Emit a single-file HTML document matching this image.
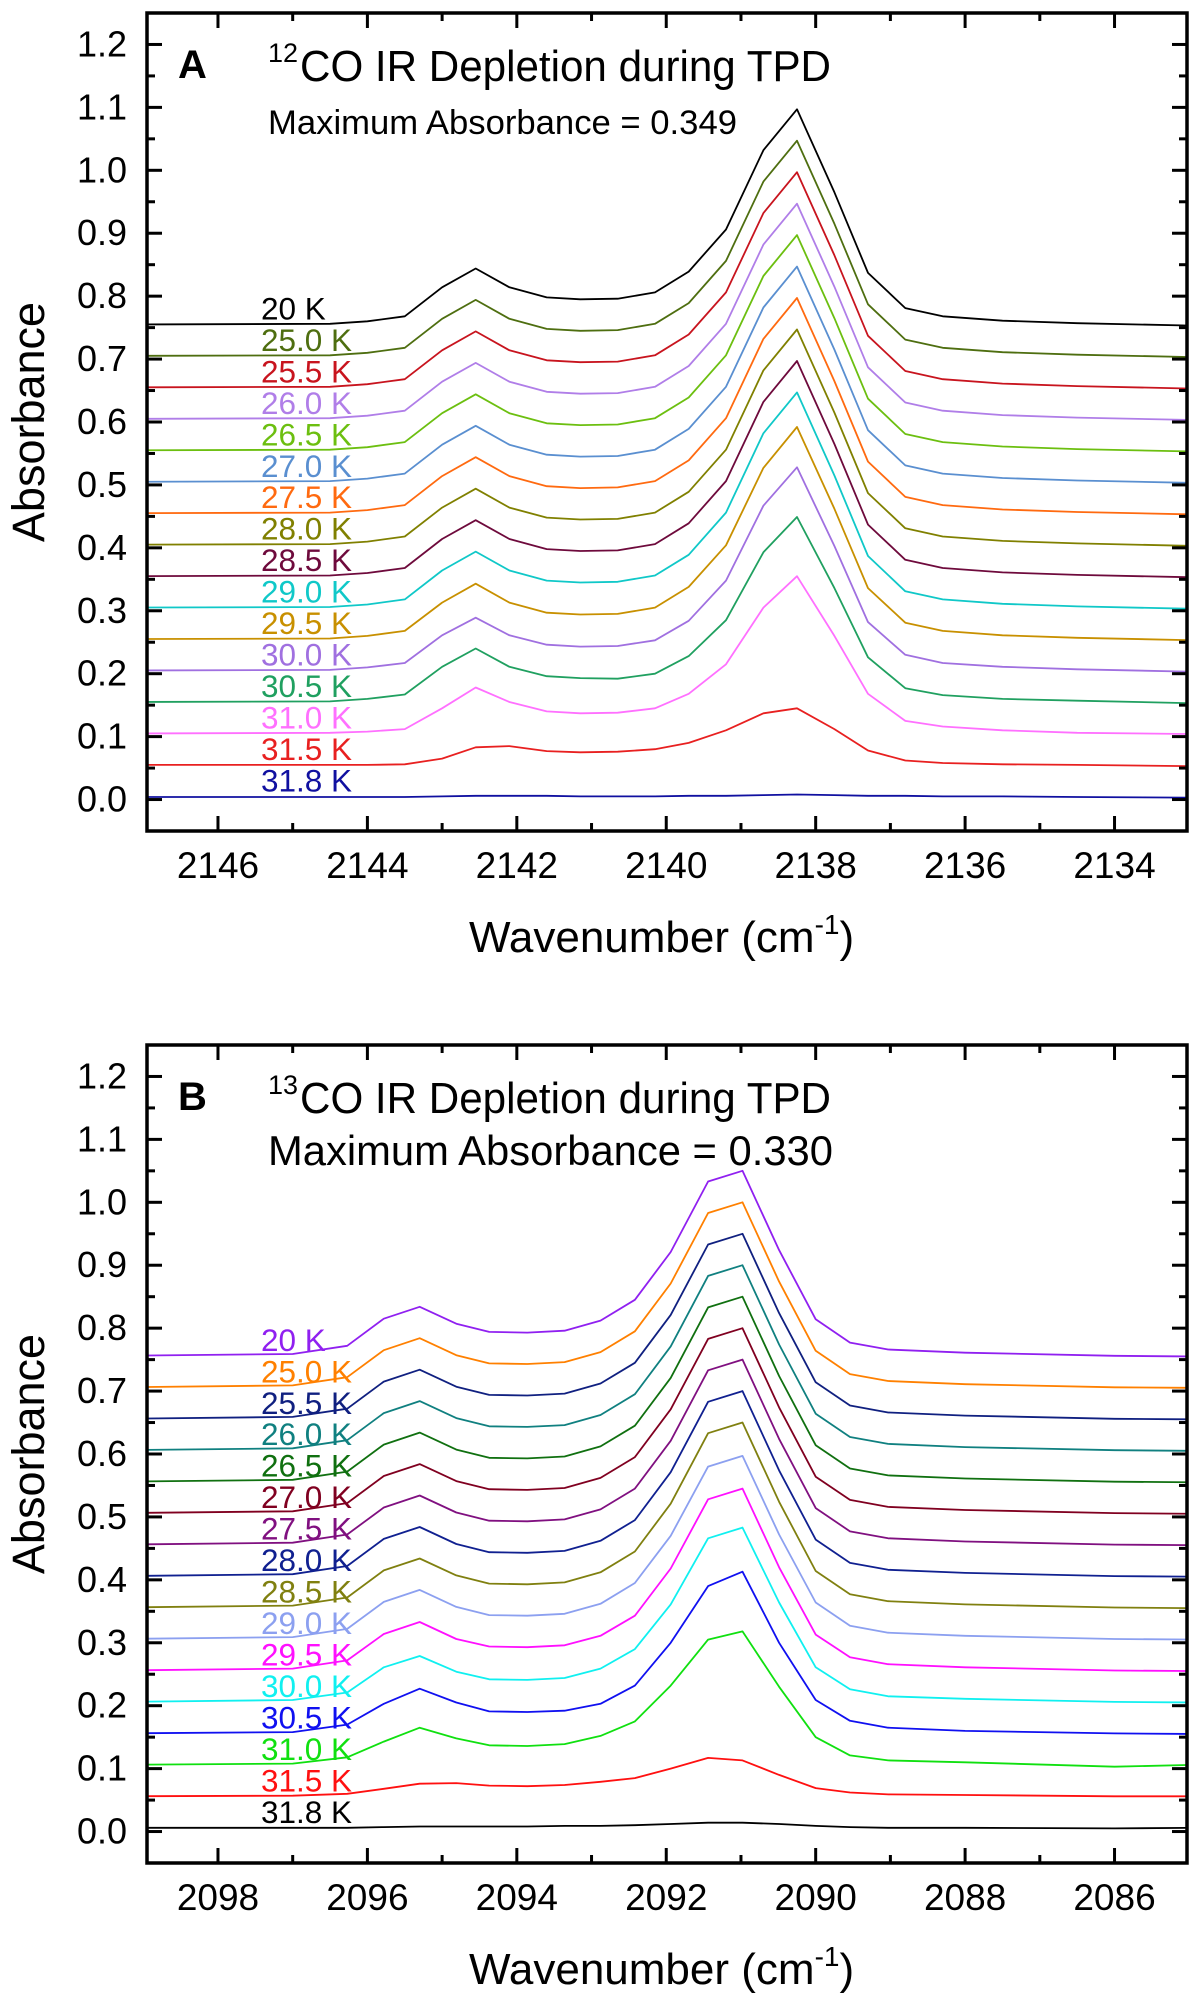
<!DOCTYPE html>
<html><head><meta charset="utf-8">
<style>
html,body{margin:0;padding:0;background:#fff;}
svg{display:block;font-family:"Liberation Sans",Arial,sans-serif;}
</style></head>
<body>
<svg id="fig" width="1200" height="2002" viewBox="0 0 1200 2002"></svg>
<script>
// ===== Panel A data (12CO) =====
const xA = [2147.3,2144.5,2144.0,2143.5,2143.0,2142.55,2142.1,2141.6,2141.15,2140.65,2140.15,2139.7,2139.2,2138.7,2138.25,2137.75,2137.3,2136.8,2136.3,2135.5,2134.5,2132.9];
const labelsA = ["20 K","25.0 K","25.5 K","26.0 K","26.5 K","27.0 K","27.5 K","28.0 K","28.5 K","29.0 K","29.5 K","30.0 K","30.5 K","31.0 K","31.5 K","31.8 K"];
const colorsA = ["#000000","#4e6e10","#c8141e","#b07ee8","#6cbf10","#5a8fd0","#ff6a10","#808000","#6e0a3c","#10c8c8","#c89000","#a070e0","#20a060","#ff70ff","#e82020","#1010a0"];
const baseA = [0.755,0.705,0.655,0.605,0.555,0.505,0.455,0.405,0.355,0.305,0.255,0.205,0.155,0.105,0.055,0.005];
const a20 = [.755,.756,.760,.768,.814,.844,.814,.798,.795,.796,.806,.839,.906,1.032,1.097,.965,.837,.781,.768,.761,.757,.753];
const a250 = [.705,.706,.710,.718,.764,.794,.764,.748,.745,.746,.756,.789,.856,.982,1.047,.915,.787,.731,.718,.711,.707,.703];
const a255 = [.655,.656,.660,.668,.714,.744,.714,.698,.695,.696,.706,.739,.806,.932,.997,.865,.737,.681,.668,.661,.657,.653];
const a260 = [.605,.606,.610,.618,.664,.694,.664,.648,.645,.646,.656,.689,.756,.882,.947,.815,.687,.631,.618,.611,.607,.603];
const a265 = [.555,.556,.560,.568,.614,.644,.614,.598,.595,.596,.606,.639,.706,.832,.897,.765,.637,.581,.568,.561,.557,.553];
const a270 = [.505,.506,.510,.518,.564,.594,.564,.548,.545,.546,.556,.589,.656,.782,.847,.715,.587,.531,.518,.511,.507,.503];
const a275 = [.455,.456,.460,.468,.514,.544,.514,.498,.495,.496,.506,.539,.606,.732,.797,.665,.537,.481,.468,.461,.457,.453];
const a280 = [.405,.406,.410,.418,.464,.494,.464,.448,.445,.446,.456,.489,.556,.682,.747,.615,.487,.431,.418,.411,.407,.403];
const a285 = [.355,.356,.360,.368,.414,.444,.414,.398,.395,.396,.406,.439,.506,.632,.697,.565,.437,.381,.368,.361,.357,.353];
const a290 = [.305,.306,.310,.318,.364,.394,.364,.348,.345,.346,.356,.389,.456,.582,.647,.515,.387,.331,.318,.311,.307,.303];
const a295 = [.255,.256,.260,.268,.313,.343,.313,.297,.294,.295,.305,.338,.404,.527,.592,.462,.336,.281,.268,.261,.257,.253];
const a300 = [.205,.206,.210,.217,.261,.289,.261,.246,.243,.244,.253,.284,.348,.467,.528,.403,.282,.230,.217,.211,.207,.203];
const a305 = [.155,.156,.160,.167,.211,.240,.211,.196,.193,.192,.200,.228,.285,.393,.449,.336,.226,.177,.166,.160,.157,.153];
const a310 = [.105,.106,.108,.112,.145,.178,.155,.140,.137,.138,.145,.168,.215,.305,.355,.260,.168,.125,.116,.110,.106,.104];
const a315 = [.055,.055,.055,.056,.065,.083,.085,.077,.075,.076,.080,.090,.110,.137,.145,.112,.078,.062,.058,.056,.055,.053];
const a318 = [.004,.004,.004,.004,.005,.006,.006,.006,.005,.005,.005,.006,.006,.007,.008,.007,.006,.006,.005,.005,.004,.003];
const seriesA = [a20,a250,a255,a260,a265,a270,a275,a280,a285,a290,a295,a300,a305,a310,a315,a318];
const xTicksA = [2146,2144,2142,2140,2138,2136,2134];

// ===== Panel B data (13CO) =====
const xB = [2099.3,2097.0,2096.27,2095.78,2095.3,2094.81,2094.37,2093.86,2093.36,2092.88,2092.42,2091.94,2091.44,2090.98,2090.49,2090.0,2089.54,2089.03,2088.0,2086.0,2084.9];
const labelsB = ["20 K","25.0 K","25.5 K","26.0 K","26.5 K","27.0 K","27.5 K","28.0 K","28.5 K","29.0 K","29.5 K","30.0 K","30.5 K","31.0 K","31.5 K","31.8 K"];
const colorsB = ["#9020f0","#ff8000","#102080","#108080","#107010","#800020","#801080","#102090","#808010","#8ca0f0","#ff10ff","#10f0f0","#1010f0","#10e010","#ff1010","#000000"];
const baseB = [0.756,0.706,0.656,0.606,0.556,0.506,0.456,0.406,0.356,0.306,0.256,0.206,0.156,0.106,0.056,0.006];
const b20 = [.756,.759,.772,.815,.834,.807,.794,.793,.796,.812,.845,.921,1.033,1.050,.924,.814,.777,.766,.761,.756,.755];
const b250 = [.706,.709,.722,.765,.784,.757,.744,.743,.746,.762,.795,.871,.983,1.000,.874,.764,.727,.716,.711,.706,.705];
const b255 = [.656,.659,.672,.715,.734,.707,.694,.693,.696,.712,.745,.821,.933,.950,.824,.714,.677,.666,.661,.656,.655];
const b260 = [.606,.609,.622,.665,.684,.657,.644,.643,.646,.662,.695,.771,.883,.900,.774,.664,.627,.616,.611,.606,.605];
const b265 = [.556,.559,.572,.615,.634,.607,.594,.593,.596,.612,.645,.721,.833,.850,.724,.614,.577,.566,.561,.556,.555];
const b270 = [.506,.509,.522,.565,.584,.557,.544,.543,.546,.562,.595,.671,.783,.800,.674,.564,.527,.516,.511,.506,.505];
const b275 = [.456,.459,.472,.515,.534,.507,.494,.493,.496,.512,.545,.621,.733,.750,.624,.514,.477,.466,.461,.456,.455];
const b280 = [.406,.409,.422,.465,.484,.457,.444,.443,.446,.462,.495,.571,.683,.700,.574,.464,.427,.416,.411,.406,.405];
const b285 = [.356,.359,.372,.415,.434,.407,.394,.393,.396,.412,.445,.521,.633,.650,.524,.414,.377,.366,.361,.356,.355];
const b290 = [.306,.309,.322,.365,.384,.357,.344,.343,.346,.362,.395,.470,.580,.597,.472,.364,.327,.316,.311,.306,.305];
const b295 = [.256,.259,.272,.314,.333,.306,.294,.293,.296,.311,.343,.418,.528,.545,.420,.313,.277,.266,.261,.256,.255];
const b300 = [.206,.209,.221,.261,.279,.254,.242,.241,.244,.259,.290,.361,.466,.483,.364,.261,.226,.215,.211,.206,.205];
const b305 = [.156,.158,.170,.203,.227,.205,.191,.190,.192,.203,.232,.300,.390,.413,.300,.209,.176,.165,.160,.156,.155];
const b310 = [.106,.108,.118,.143,.165,.148,.137,.136,.139,.152,.175,.232,.305,.318,.230,.150,.121,.113,.110,.103,.106];
const b315 = [.056,.057,.060,.068,.076,.077,.073,.072,.074,.079,.085,.100,.117,.113,.090,.069,.062,.059,.058,.056,.056];
const b318 = [.006,.006,.006,.007,.008,.008,.008,.008,.009,.009,.010,.012,.014,.014,.012,.009,.007,.006,.006,.005,.006];
const seriesB = [b20,b250,b255,b260,b265,b270,b275,b280,b285,b290,b295,b300,b305,b310,b315,b318];
const xTicksB = [2098,2096,2094,2092,2090,2088,2086];
const yTicks = [0.0,0.1,0.2,0.3,0.4,0.5,0.6,0.7,0.8,0.9,1.0,1.1,1.2];

const NS = "http://www.w3.org/2000/svg";
const svg = document.getElementById('fig');
function el(tag, attrs, parent, text){
  const e = document.createElementNS(NS, tag);
  for (const k in attrs) e.setAttribute(k, attrs[k]);
  if (text !== undefined) e.textContent = text;
  (parent || svg).appendChild(e);
  return e;
}

function drawPanel(cfg){
  const L=147, R=1187, T=13+cfg.dy, B=831+cfg.dy;
  const xs = v => L + (cfg.xmax - v) / (cfg.xmax - cfg.xmin) * (R - L);
  const ys = v => B - (v - (-0.05)) / (1.25 - (-0.05)) * (B - T);
  const g = el('g', {});
  
  

  const cp = el('clipPath', {id: 'clip-' + cfg.name}, g);
  el('rect', {x: L, y: T, width: R - L, height: B - T}, cp);

  const sg = el('g', {'clip-path': 'url(#clip-' + cfg.name + ')'}, g);
  
  
  cfg.series.forEach((arr, i) => {
    const d = arr.map((v, j) => (j ? 'L' : 'M') + xs(cfg.x[j]).toFixed(1) + ',' + ys(v).toFixed(1)).join(' ');
    const p = el('path', {d: d, fill: 'none', stroke: cfg.colors[i], 'stroke-width': 1.8, 'stroke-linejoin': 'round'}, sg);
    
    
  });
  cfg.labels.forEach((lab, i) => {
    const t = el('text', {x: 261, y: ys(cfg.base[i]) - 5, fill: cfg.colors[i], 'font-size': 31.5}, g, lab);
    
    
  });

  const tg = el('g', {stroke: '#000', 'stroke-width': 3}, g);
  
  
  cfg.xTicks.forEach(v => {
    const x = xs(v);
    el('line', {x1: x, x2: x, y1: B, y2: B - 15}, tg);
    el('line', {x1: x, x2: x, y1: T, y2: T + 15}, tg);
    const xm = xs(v - 1);
    if (xm > L && xm < R) {
      el('line', {x1: xm, x2: xm, y1: B, y2: B - 8}, tg);
      el('line', {x1: xm, x2: xm, y1: T, y2: T + 8}, tg);
    }
    const xm2 = xs(v + 1);
    if (v === cfg.xTicks[0] && xm2 > L) {
      el('line', {x1: xm2, x2: xm2, y1: B, y2: B - 8}, tg);
      el('line', {x1: xm2, x2: xm2, y1: T, y2: T + 8}, tg);
    }
    const t = el('text', {x: x, y: B + 47, 'text-anchor': 'middle', 'font-size': 37, fill: '#000', stroke: 'none'}, g, String(v));
    
    
  });
  yTicks.forEach(v => {
    const y = ys(v);
    el('line', {x1: L, x2: L + 15, y1: y, y2: y}, tg);
    el('line', {x1: R, x2: R - 15, y1: y, y2: y}, tg);
    const ym = ys(v + 0.05);
    if (ym > T) {
      el('line', {x1: L, x2: L + 8, y1: ym, y2: ym}, tg);
      el('line', {x1: R, x2: R - 8, y1: ym, y2: ym}, tg);
    }
    const t = el('text', {x: 127, y: y + 12, 'text-anchor': 'end', 'font-size': 36, fill: '#000', stroke: 'none'}, g, v.toFixed(1));
    
    
  });

  const fr = el('rect', {x: L, y: T, width: R - L, height: B - T, fill: 'none', stroke: '#000', 'stroke-width': 3.5}, g);
  
  

  const yt = el('text', {x: 0, y: 0, transform: 'translate(44,' + ((T + B) / 2) + ') rotate(-90)', 'text-anchor': 'middle', 'font-size': 45}, g, 'Absorbance');
  
  
  const xt = el('text', {x: 469, y: 952 + cfg.dy, 'font-size': 44}, g);
  
  
  el('tspan', {}, xt, 'Wavenumber (cm');
  el('tspan', {'font-size': 28, dy: -18}, xt, '-1');
  el('tspan', {dy: 18}, xt, ')');

  const pl = el('text', {x: 178, y: 78 + cfg.dy, 'font-size': 40, 'font-weight': 'bold'}, g, cfg.letter);
  
  
  const sup = el('text', {x: 268, y: 62 + cfg.dy, 'font-size': 27}, g, cfg.iso);
  
  
  const tt = el('text', {x: 300, y: 81 + cfg.dy, 'font-size': 44, textLength: 531, lengthAdjust: 'spacingAndGlyphs'}, g, 'CO IR Depletion during TPD');
  
  
  const mt = el('text', {x: 268, y: cfg.maxY, 'font-size': cfg.maxFs, textLength: cfg.maxW, lengthAdjust: 'spacingAndGlyphs'}, g, cfg.maxText);
  
  
}

drawPanel({name: 'panel-a-12co', dy: 0, xmax: 2146.95, xmin: 2133.03, x: xA, series: seriesA, labels: labelsA, colors: colorsA, base: baseA, xTicks: xTicksA, letter: 'A', iso: '12', maxText: 'Maximum Absorbance = 0.349', maxY: 134, maxFs: 34, maxW: 469});
drawPanel({name: 'panel-b-13co', dy: 1032, xmax: 2098.95, xmin: 2085.03, x: xB, series: seriesB, labels: labelsB, colors: colorsB, base: baseB, xTicks: xTicksB, letter: 'B', iso: '13', maxText: 'Maximum Absorbance = 0.330', maxY: 1165, maxFs: 42, maxW: 565});
</script>
</body></html>
